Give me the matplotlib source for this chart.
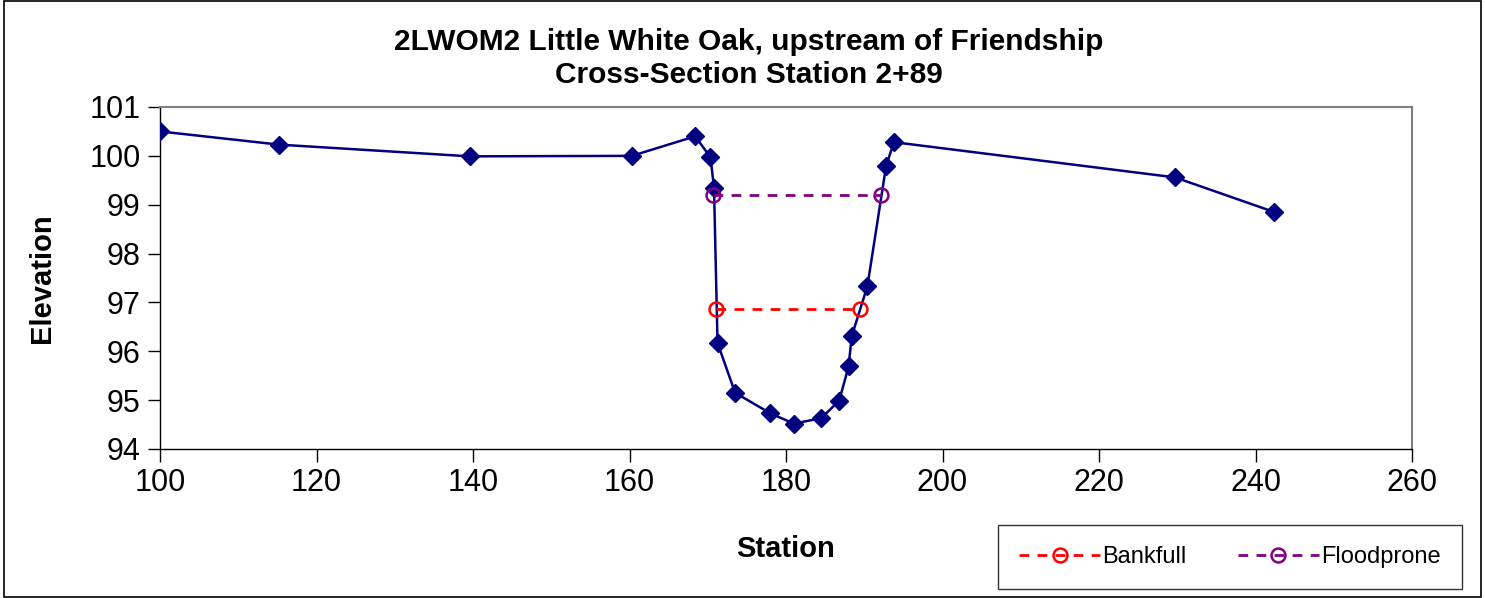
import matplotlib.pyplot as plt
from matplotlib.patches import Rectangle

plt.rcParams['font.family'] = ['Liberation Sans', 'DejaVu Sans']

# cross-section survey
station = [100.0, 115.2, 139.6, 160.3, 168.4, 170.35, 170.8, 171.25, 173.5, 178.0,
           181.0, 184.5, 186.8, 188.0, 188.4, 190.4, 192.8, 193.8, 229.7, 242.4]
elevation = [100.5, 100.23, 99.99, 100.0, 100.4, 99.97, 99.35, 96.17, 95.15, 94.73,
             94.52, 94.63, 94.99, 95.69, 96.31, 97.33, 99.8, 100.28, 99.56, 98.85]

bankfull_x = [171.1, 189.45]
bankfull_y = [96.86, 96.86]
flood_x = [170.7, 192.1]
flood_y = [99.19, 99.19]

fig = plt.figure(figsize=(14.85, 5.98), dpi=100)
ax = fig.add_axes([160 / 1485, 1 - 449 / 598, (1412 - 160) / 1485, (449 - 107) / 598])

ax.plot(station, elevation, color='#000080', lw=1.8, marker='D', ms=9.5, zorder=3)
ax.plot(bankfull_x, bankfull_y, color='red', ls=(0, (3.5, 3)), lw=2,
        marker='o', ms=10, mfc='none', mew=1.8, label='Bankfull', zorder=4)
ax.plot(flood_x, flood_y, color='#800080', ls=(0, (3.5, 3)), lw=2,
        marker='o', ms=10, mfc='none', mew=1.8, label='Floodprone', zorder=4)

ax.set_xlim(100, 260)
ax.set_ylim(94, 101)
ax.set_xticks(range(100, 261, 20))
ax.set_yticks(range(94, 102))
ax.tick_params(labelsize=22, direction='out', length=9, width=1, pad=5)

for s in ['top', 'right']:
    ax.spines[s].set_color('#808080')
    ax.spines[s].set_linewidth(1.5)
for s in ['left', 'bottom']:
    ax.spines[s].set_color('black')
    ax.spines[s].set_linewidth(1)

ax.set_xlabel('Station', fontsize=21, fontweight='bold', labelpad=26)
ax.set_ylabel('Elevation', fontsize=21, fontweight='bold', labelpad=24)

fig.text(0.504, 1 - 42 / 598, '2LWOM2 Little White Oak, upstream of Friendship',
         ha='center', va='center', fontsize=21.5, fontweight='bold')
fig.text(0.504, 1 - 75 / 598, 'Cross-Section Station 2+89',
         ha='center', va='center', fontsize=21.5, fontweight='bold')

leg = fig.legend(loc='center', bbox_to_anchor=(1230 / 1485, 1 - 557 / 598),
                 ncol=2, fontsize=17, frameon=True, fancybox=False,
                 handlelength=3.4, handletextpad=0.1, columnspacing=2.2,
                 borderpad=0.9, borderaxespad=0)
leg.get_frame().set_edgecolor('black')
leg.get_frame().set_linewidth(1)

fig.patches.append(Rectangle((0.003, 0.002), 0.994, 0.996, transform=fig.transFigure,
                             fill=False, edgecolor='black', lw=1.2))

plt.savefig('out.png', dpi=100)
